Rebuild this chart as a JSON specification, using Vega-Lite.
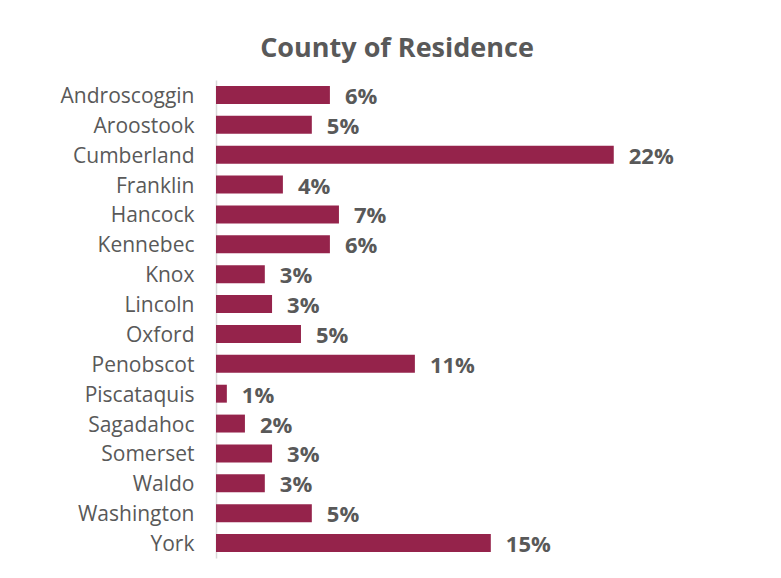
{
  "$schema": "https://vega.github.io/schema/vega-lite/v6.json",
  "autosize": "none",
  "width": 452,
  "height": 478,
  "padding": {"left": 216, "top": 80, "right": 113, "bottom": 20},
  "background": "white",
  "title": {
    "text": "County of Residence",
    "font": "Open Sans",
    "fontSize": 27,
    "fontWeight": "bold",
    "color": "#595959",
    "anchor": "middle",
    "dx": -45,
    "offset": 17
  },
  "config": {"view": {"stroke": null}},
  "data": {
    "values": [
      {"county": "Androscoggin", "pct": 0.063},
      {"county": "Aroostook", "pct": 0.053},
      {"county": "Cumberland", "pct": 0.22},
      {"county": "Franklin", "pct": 0.037},
      {"county": "Hancock", "pct": 0.068},
      {"county": "Kennebec", "pct": 0.063},
      {"county": "Knox", "pct": 0.027},
      {"county": "Lincoln", "pct": 0.031},
      {"county": "Oxford", "pct": 0.047},
      {"county": "Penobscot", "pct": 0.11},
      {"county": "Piscataquis", "pct": 0.006},
      {"county": "Sagadahoc", "pct": 0.016},
      {"county": "Somerset", "pct": 0.031},
      {"county": "Waldo", "pct": 0.027},
      {"county": "Washington", "pct": 0.053},
      {"county": "York", "pct": 0.152}
    ]
  },
  "encoding": {
    "y": {
      "field": "county",
      "type": "nominal",
      "sort": null,
      "scale": {"paddingInner": 0.4, "paddingOuter": 0.2},
      "axis": {
        "title": null,
        "ticks": false,
        "labelPadding": 22,
        "labelOffset": 2,
        "labelFont": "Open Sans",
        "labelFontSize": 21,
        "labelColor": "#595959",
        "domainColor": "#d9d9d9",
        "domainWidth": 1.5
      }
    },
    "x": {
      "field": "pct",
      "type": "quantitative",
      "scale": {"domain": [0, 0.25]},
      "axis": null
    }
  },
  "layer": [
    {"mark": {"type": "bar", "color": "#95234b"}},
    {
      "mark": {
        "type": "text",
        "align": "left",
        "baseline": "middle",
        "dx": 15,
        "dy": 2,
        "font": "Open Sans",
        "fontSize": 22,
        "fontWeight": "bold",
        "color": "#595959"
      },
      "encoding": {"text": {"field": "pct", "type": "quantitative", "format": ".0%"}}
    }
  ]
}
